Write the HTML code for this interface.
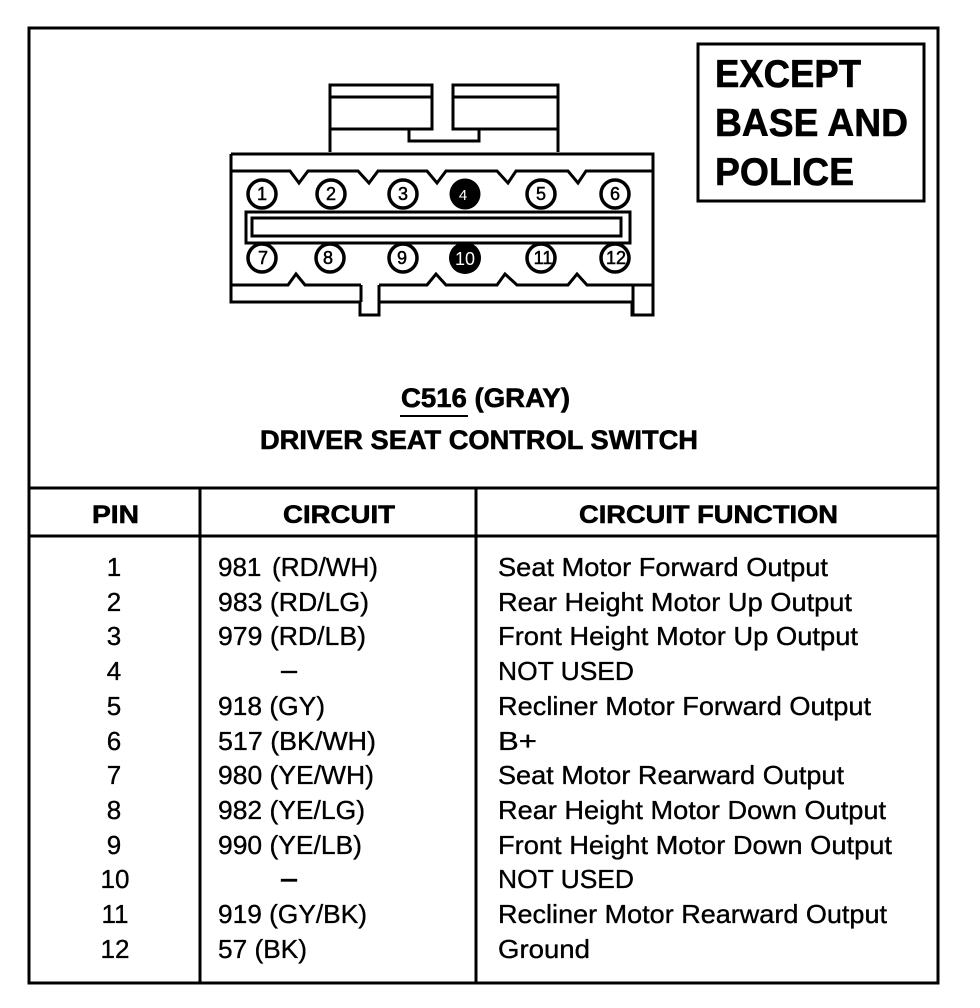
<!DOCTYPE html>
<html><head><meta charset="utf-8"><style>
html,body{margin:0;padding:0;background:#fff}
svg{display:block}
text{font-family:"Liberation Sans",sans-serif;fill:#000}
.b{font-weight:bold;stroke:#000;stroke-width:.6px}
.r{font-size:26px;stroke:#000;stroke-width:.35px}
.h{font-size:25px}
.p{font-size:18px;text-anchor:middle;stroke:#000;stroke-width:.5px}
.l{fill:none;stroke:#000;stroke-width:3}
</style></head><body>
<svg width="980" height="1008" viewBox="0 0 980 1008" xmlns="http://www.w3.org/2000/svg">
<rect width="980" height="1008" fill="#fff"/>
<rect class="l" x="29" y="28" width="909" height="955"/>
<path class="l" d="M29 488H938M29 536H938M200 488V983M476 488V983"/>
<rect class="l" x="698" y="44" width="226" height="157"/>
<g class="b" font-size="39">
<text x="715" y="87" textLength="146" lengthAdjust="spacingAndGlyphs">EXCEPT</text>
<text x="715" y="136" textLength="193" lengthAdjust="spacingAndGlyphs">BASE AND</text>
<text x="715" y="185" textLength="139" lengthAdjust="spacingAndGlyphs">POLICE</text>
</g>
<path class="l" d="M330 152V85H432V129H409V141H479V129H453V85H558V152M330 97H432M453 97H558M330 129H409M479 129H558"/>
<path class="l" d="M231 154H653V315H633V302H632M231 154V302H360V315H379V302H632V315H653"/>
<path class="l" stroke-width="3.5" d="M231 171H290L299 183L308 171H358L369 183L378 171H427L437 183L446 171H497L508 183L516 171H568L578 183L586 171H653"/>
<path class="l" d="M231 285H288L296 274L305 285H361M379 285H427L436 274L446 285H497L505 274L517 285H568L577 274L587 285H653M361 285V302M379 285V302M633 285V302"/>
<rect class="l" x="246" y="212" width="384" height="31"/>
<rect class="l" x="252" y="218" width="369" height="18"/>
<g fill="#fff" stroke="#000" stroke-width="3.5">
<circle cx="262" cy="194" r="14"/><circle cx="331" cy="194" r="14"/><circle cx="403" cy="194" r="14"/><circle cx="541" cy="194" r="14"/><circle cx="615" cy="194" r="14"/>
<circle cx="262" cy="258" r="14"/><circle cx="330" cy="258" r="14"/><circle cx="403" cy="258" r="14"/><circle cx="541" cy="258" r="14"/><circle cx="615" cy="258" r="14"/>
</g>
<circle cx="465" cy="194" r="15.5" fill="#000"/><circle cx="465" cy="258" r="16" fill="#000"/>
<g class="p">
<text x="262" y="200">1</text><text x="331" y="200">2</text><text x="403" y="200">3</text><text x="463" y="200" style="fill:#fff;stroke:none" font-size="15">4</text><text x="541" y="200">5</text><text x="615" y="200">6</text>
<text x="263" y="264">7</text><text x="328" y="264">8</text><text x="402" y="264">9</text><text x="465" y="265" style="fill:#fff;stroke:none">10</text><text x="543" y="264">11</text><text x="616" y="264">12</text>
</g>
<g class="b" font-size="27">
<text x="401" y="407" textLength="169" lengthAdjust="spacingAndGlyphs">C516 (GRAY)</text>
<text x="260" y="449" textLength="438" lengthAdjust="spacingAndGlyphs">DRIVER SEAT CONTROL SWITCH</text>
</g>
<rect x="400" y="415" width="68" height="2"/>
<g class="b h">
<text x="92" y="523" textLength="47" lengthAdjust="spacingAndGlyphs">PIN</text>
<text x="283" y="523" textLength="112" lengthAdjust="spacingAndGlyphs">CIRCUIT</text>
<text x="579" y="523" textLength="259" lengthAdjust="spacingAndGlyphs">CIRCUIT FUNCTION</text>
</g>
<g class="r" text-anchor="middle">
<text x="114" y="576">1</text><text x="114" y="611">2</text><text x="114" y="645">3</text><text x="114" y="680">4</text><text x="114" y="715">5</text><text x="114" y="750">6</text><text x="114" y="784">7</text><text x="114" y="819">8</text><text x="114" y="854">9</text><text x="115" y="888">10</text><text x="115" y="923">11</text><text x="115" y="958">12</text>
</g>
<g class="r">
<text x="218" y="576">981</text>
<text x="272" y="576" textLength="106" lengthAdjust="spacingAndGlyphs">(RD/WH)</text>
<text x="218" y="611" textLength="151" lengthAdjust="spacingAndGlyphs">983 (RD/LG)</text>
<text x="218" y="645" textLength="148" lengthAdjust="spacingAndGlyphs">979 (RD/LB)</text>
<rect x="281" y="671" width="16" height="2"/>
<text x="218" y="715" textLength="107" lengthAdjust="spacingAndGlyphs">918 (GY)</text>
<text x="218" y="750" textLength="158" lengthAdjust="spacingAndGlyphs">517 (BK/WH)</text>
<text x="218" y="784" textLength="156" lengthAdjust="spacingAndGlyphs">980 (YE/WH)</text>
<text x="218" y="819" textLength="147" lengthAdjust="spacingAndGlyphs">982 (YE/LG)</text>
<text x="218" y="854" textLength="144" lengthAdjust="spacingAndGlyphs">990 (YE/LB)</text>
<rect x="281" y="879" width="16" height="2.5"/>
<text x="218" y="923" textLength="149" lengthAdjust="spacingAndGlyphs">919 (GY/BK)</text>
<text x="218" y="958" textLength="89" lengthAdjust="spacingAndGlyphs">57 (BK)</text>
<text x="498" y="576" textLength="330" lengthAdjust="spacingAndGlyphs">Seat Motor Forward Output</text>
<text x="498" y="611" textLength="354" lengthAdjust="spacingAndGlyphs">Rear Height Motor Up Output</text>
<text x="498" y="645" textLength="360" lengthAdjust="spacingAndGlyphs">Front Height Motor Up Output</text>
<text x="498" y="680" textLength="136" lengthAdjust="spacingAndGlyphs">NOT USED</text>
<text x="498" y="715" textLength="373" lengthAdjust="spacingAndGlyphs">Recliner Motor Forward Output</text>
<text x="498" y="750" textLength="39" lengthAdjust="spacingAndGlyphs">B+</text>
<text x="498" y="784" textLength="346" lengthAdjust="spacingAndGlyphs">Seat Motor Rearward Output</text>
<text x="498" y="819" textLength="388" lengthAdjust="spacingAndGlyphs">Rear Height Motor Down Output</text>
<text x="498" y="854" textLength="394" lengthAdjust="spacingAndGlyphs">Front Height Motor Down Output</text>
<text x="498" y="888" textLength="136" lengthAdjust="spacingAndGlyphs">NOT USED</text>
<text x="498" y="923" textLength="389" lengthAdjust="spacingAndGlyphs">Recliner Motor Rearward Output</text>
<text x="498" y="958" textLength="92" lengthAdjust="spacingAndGlyphs">Ground</text>
</g>
</svg>
</body></html>
